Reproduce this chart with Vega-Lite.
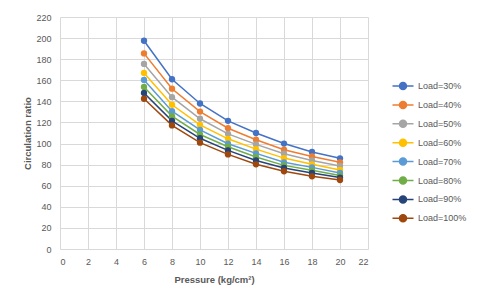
{
  "$schema": "https://vega.github.io/schema/vega-lite/v6.json",
  "width": 308,
  "height": 232,
  "autosize": {"type": "none"},
  "padding": {"left": 60, "top": 17, "right": 112, "bottom": 55},
  "background": "white",
  "config": {
    "view": {"stroke": null},
    "font": "Liberation Sans",
    "axis": {
      "labelColor": "#595959",
      "labelFontSize": 9,
      "titleColor": "#595959",
      "titleFontSize": 9.5,
      "titleFontWeight": "bold",
      "gridColor": "#D9D9D9",
      "gridWidth": 1,
      "ticks": false,
      "domain": false
    },
    "legend": {
      "labelColor": "#595959",
      "labelFontSize": 9,
      "padding": 0
    }
  },
  "data": {
    "values": [
      {"load": "Load=30%", "pressure": 6, "ratio": 197.5},
      {"load": "Load=30%", "pressure": 8, "ratio": 161},
      {"load": "Load=30%", "pressure": 10, "ratio": 138},
      {"load": "Load=30%", "pressure": 12, "ratio": 121.5},
      {"load": "Load=30%", "pressure": 14, "ratio": 110},
      {"load": "Load=30%", "pressure": 16, "ratio": 100},
      {"load": "Load=30%", "pressure": 18, "ratio": 92},
      {"load": "Load=30%", "pressure": 20, "ratio": 86},
      {"load": "Load=40%", "pressure": 6, "ratio": 185.5},
      {"load": "Load=40%", "pressure": 8, "ratio": 152},
      {"load": "Load=40%", "pressure": 10, "ratio": 130.3},
      {"load": "Load=40%", "pressure": 12, "ratio": 114.5},
      {"load": "Load=40%", "pressure": 14, "ratio": 103.6},
      {"load": "Load=40%", "pressure": 16, "ratio": 94.1},
      {"load": "Load=40%", "pressure": 18, "ratio": 87.8},
      {"load": "Load=40%", "pressure": 20, "ratio": 82.2},
      {"load": "Load=50%", "pressure": 6, "ratio": 175.5},
      {"load": "Load=50%", "pressure": 8, "ratio": 144},
      {"load": "Load=50%", "pressure": 10, "ratio": 123.5},
      {"load": "Load=50%", "pressure": 12, "ratio": 109.2},
      {"load": "Load=50%", "pressure": 14, "ratio": 99.2},
      {"load": "Load=50%", "pressure": 16, "ratio": 90.4},
      {"load": "Load=50%", "pressure": 18, "ratio": 84},
      {"load": "Load=50%", "pressure": 20, "ratio": 78.7},
      {"load": "Load=60%", "pressure": 6, "ratio": 167},
      {"load": "Load=60%", "pressure": 8, "ratio": 136.8},
      {"load": "Load=60%", "pressure": 10, "ratio": 117.7},
      {"load": "Load=60%", "pressure": 12, "ratio": 104.5},
      {"load": "Load=60%", "pressure": 14, "ratio": 94.7},
      {"load": "Load=60%", "pressure": 16, "ratio": 86.2},
      {"load": "Load=60%", "pressure": 18, "ratio": 80.3},
      {"load": "Load=60%", "pressure": 20, "ratio": 74.9},
      {"load": "Load=70%", "pressure": 6, "ratio": 160.3},
      {"load": "Load=70%", "pressure": 8, "ratio": 130.7},
      {"load": "Load=70%", "pressure": 10, "ratio": 113},
      {"load": "Load=70%", "pressure": 12, "ratio": 99.8},
      {"load": "Load=70%", "pressure": 14, "ratio": 90.7},
      {"load": "Load=70%", "pressure": 16, "ratio": 82.2},
      {"load": "Load=70%", "pressure": 18, "ratio": 77.4},
      {"load": "Load=70%", "pressure": 20, "ratio": 72.1},
      {"load": "Load=80%", "pressure": 6, "ratio": 153.7},
      {"load": "Load=80%", "pressure": 8, "ratio": 126},
      {"load": "Load=80%", "pressure": 10, "ratio": 108.6},
      {"load": "Load=80%", "pressure": 12, "ratio": 97},
      {"load": "Load=80%", "pressure": 14, "ratio": 87.2},
      {"load": "Load=80%", "pressure": 16, "ratio": 79.3},
      {"load": "Load=80%", "pressure": 18, "ratio": 74.6},
      {"load": "Load=80%", "pressure": 20, "ratio": 69.6},
      {"load": "Load=90%", "pressure": 6, "ratio": 148},
      {"load": "Load=90%", "pressure": 8, "ratio": 121.5},
      {"load": "Load=90%", "pressure": 10, "ratio": 105},
      {"load": "Load=90%", "pressure": 12, "ratio": 93.5},
      {"load": "Load=90%", "pressure": 14, "ratio": 84},
      {"load": "Load=90%", "pressure": 16, "ratio": 76.8},
      {"load": "Load=90%", "pressure": 18, "ratio": 72.1},
      {"load": "Load=90%", "pressure": 20, "ratio": 67.7},
      {"load": "Load=100%", "pressure": 6, "ratio": 142.5},
      {"load": "Load=100%", "pressure": 8, "ratio": 117.2},
      {"load": "Load=100%", "pressure": 10, "ratio": 100.8},
      {"load": "Load=100%", "pressure": 12, "ratio": 89.7},
      {"load": "Load=100%", "pressure": 14, "ratio": 80.3},
      {"load": "Load=100%", "pressure": 16, "ratio": 73.7},
      {"load": "Load=100%", "pressure": 18, "ratio": 68.9},
      {"load": "Load=100%", "pressure": 20, "ratio": 65.4}
    ]
  },
  "encoding": {
    "x": {
      "field": "pressure",
      "type": "quantitative",
      "scale": {"domain": [0, 22], "nice": false},
      "axis": {
        "values": [0, 2, 4, 6, 8, 10, 12, 14, 16, 18, 20, 22],
        "title": "Pressure (kg/cm²)",
        "labelPadding": 8,
        "titlePadding": 8
      }
    },
    "y": {
      "field": "ratio",
      "type": "quantitative",
      "scale": {"domain": [0, 220], "nice": false},
      "axis": {
        "values": [0, 20, 40, 60, 80, 100, 120, 140, 160, 180, 200, 220],
        "title": "Circulation ratio",
        "labelPadding": 9,
        "titlePadding": 3
      }
    },
    "color": {
      "field": "load",
      "type": "nominal",
      "scale": {
        "domain": ["Load=30%", "Load=40%", "Load=50%", "Load=60%", "Load=70%", "Load=80%", "Load=90%", "Load=100%"],
        "range": ["#4472C4", "#ED7D31", "#A5A5A5", "#FFC000", "#5B9BD5", "#70AD47", "#264478", "#9E480E"]
      },
      "legend": {
        "title": null,
        "orient": "none",
        "legendX": 335,
        "legendY": 61,
        "symbolType": "M-1.5,0H1.5M0.5,0A0.5,0.5 0 1,1 -0.5,0A0.5,0.5 0 1,1 0.5,0Z",
        "symbolSize": 196,
        "symbolStrokeWidth": 1.5,
        "labelOffset": 7,
        "rowPadding": 3.9
      }
    }
  },
  "layer": [
    {"mark": {"type": "line", "strokeWidth": 1.5}},
    {"mark": {"type": "point", "filled": true, "size": 40, "opacity": 1}}
  ]
}
